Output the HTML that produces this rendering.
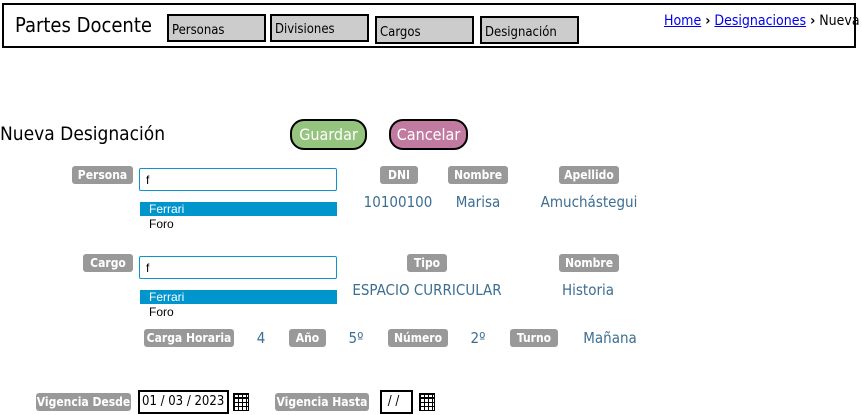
<!DOCTYPE html>
<html><head><meta charset="utf-8"><style>
body{margin:0;width:862px;height:415px;position:relative;background:#fff;font-family:"DejaVu Sans Condensed","DejaVu Sans","Liberation Sans",sans-serif;overflow:hidden}
.a{position:absolute}
.hdr{left:2px;top:3px;width:850px;height:41px;border:2px solid #000}
.nav{background:#ccc;border:2px solid #000;font-size:13px;line-height:30px;padding-left:3px;box-sizing:border-box;height:28px;width:99px;white-space:nowrap}
.lb{background:#999;color:#fff;font-weight:bold;font-size:12px;text-align:center;line-height:18px;height:18px;border-radius:3px;white-space:nowrap}
.v{color:#3c6e91;font-size:15px;text-align:center;white-space:nowrap}
.in{border:1px solid #0a94cf;border-radius:2px;box-sizing:border-box;font-size:12px;padding:4px 6px;font-family:"Liberation Sans",sans-serif}
.sel{background:#0095cd;color:#fff;font-size:12px;line-height:14px;padding-left:9px;box-sizing:border-box;font-family:"Liberation Sans",sans-serif}
.opt{font-size:12px;line-height:13px;padding-left:9px;font-family:"Liberation Sans",sans-serif}
.btn{border:2px solid #000;border-radius:14px;color:#fff;font-size:16px;text-align:center;line-height:28px;box-sizing:border-box;height:31px}
.dt{border:2px solid #000;box-sizing:border-box;font-size:13px;line-height:20px;padding-left:2px;white-space:nowrap}
.cal{width:16px;height:18px;border:1px solid #000;box-sizing:border-box;background:
linear-gradient(#000,#000) 0 3px/100% 2px no-repeat,
repeating-linear-gradient(90deg,#000 0 1px,transparent 1px 4px),
repeating-linear-gradient(#000 0 1px,transparent 1px 4px)}
</style></head><body>
<div class="a hdr"></div>
<div class="a" style="left:15px;top:13px;font-size:20px">Partes Docente</div>
<div class="a nav" style="left:167px;top:14px">Personas</div>
<div class="a nav" style="left:270px;top:14px;line-height:27px">Divisiones</div>
<div class="a nav" style="left:375px;top:16px">Cargos</div>
<div class="a nav" style="left:480px;top:16px">Designación</div>
<div class="a" style="left:664px;top:13px;font-size:14px;white-space:nowrap"><span style="color:#00e;text-decoration:underline">Home</span> <b>›</b> <span style="color:#00e;text-decoration:underline">Designaciones</span> <b>›</b> Nueva</div>

<div class="a" style="left:0;top:123px;font-size:19px">Nueva Designación</div>
<div class="a btn" style="left:290px;top:119px;width:77px;background:#94c47d">Guardar</div>
<div class="a btn" style="left:389px;top:119px;width:79px;background:#c27ba0">Cancelar</div>

<div class="a lb" style="left:72px;top:166px;width:61px">Persona</div>
<div class="a in" style="left:139px;top:168px;width:198px;height:23px">f</div>
<div class="a sel" style="left:140px;top:202px;width:197px">Ferrari</div>
<div class="a opt" style="left:140px;top:218px">Foro</div>
<div class="a lb" style="left:380px;top:166px;width:38px">DNI</div>
<div class="a lb" style="left:448px;top:166px;width:60px">Nombre</div>
<div class="a lb" style="left:559px;top:166px;width:60px">Apellido</div>
<div class="a v" style="left:348px;top:193px;width:100px">10100100</div>
<div class="a v" style="left:428px;top:193px;width:100px">Marisa</div>
<div class="a v" style="left:519px;top:193px;width:140px">Amuchástegui</div>

<div class="a lb" style="left:83px;top:254px;width:50px">Cargo</div>
<div class="a in" style="left:139px;top:256px;width:198px;height:23px">f</div>
<div class="a sel" style="left:140px;top:290px;width:197px">Ferrari</div>
<div class="a opt" style="left:140px;top:306px">Foro</div>
<div class="a lb" style="left:407px;top:254px;width:40px">Tipo</div>
<div class="a lb" style="left:559px;top:254px;width:60px">Nombre</div>
<div class="a v" style="left:327px;top:281px;width:200px">ESPACIO CURRICULAR</div>
<div class="a v" style="left:538px;top:281px;width:100px">Historia</div>

<div class="a lb" style="left:144px;top:329px;width:90px">Carga Horaria</div>
<div class="a v" style="left:241px;top:329px;width:40px">4</div>
<div class="a lb" style="left:289px;top:329px;width:37px">Año</div>
<div class="a v" style="left:336px;top:329px;width:40px">5º</div>
<div class="a lb" style="left:388px;top:329px;width:60px">Número</div>
<div class="a v" style="left:458px;top:329px;width:40px">2º</div>
<div class="a lb" style="left:510px;top:329px;width:48px">Turno</div>
<div class="a v" style="left:570px;top:329px;width:80px">Mañana</div>

<div class="a lb" style="left:36px;top:393px;width:95px">Vigencia Desde</div>
<div class="a dt" style="left:138px;top:390px;width:91px;height:24px">01 / 03 / 2023</div>
<div class="a cal" style="left:233px;top:393px"></div>
<div class="a lb" style="left:275px;top:393px;width:94px">Vigencia Hasta</div>
<div class="a dt" style="left:380px;top:390px;width:33px;height:24px">&nbsp;/ /</div>
<div class="a cal" style="left:419px;top:393px"></div>
</body></html>
